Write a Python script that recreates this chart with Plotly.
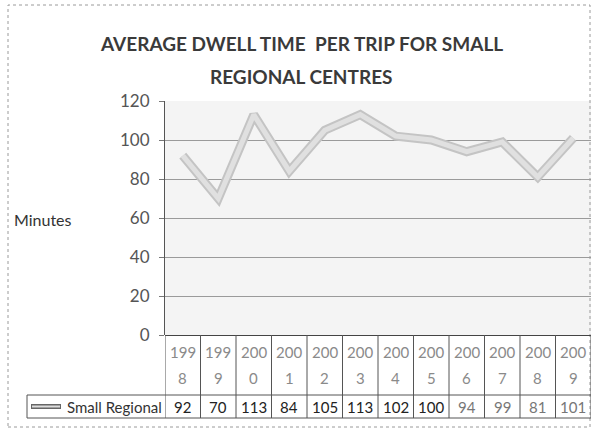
import plotly.graph_objects as go

years = ["1998", "1999", "2000", "2001", "2002", "2003", "2004", "2005", "2006", "2007", "2008", "2009"]
values = [92, 70, 113, 84, 105, 113, 102, 100, 94, 99, 81, 101]
series_name = "Small Regional"
title_lines = ["AVERAGE DWELL TIME  PER TRIP FOR SMALL", "REGIONAL CENTRES"]
y_label = "Minutes"

FONT = "Lato, Open Sans, sans-serif"
W, H = 591, 432
L, R, T, B = 165, 0, 101, 97
ph = H - T - B
pw = W - L - R

def py(Y):
    return (H - B - Y) / ph

def px(X):
    return (X - L) / pw

xs = list(range(len(years)))

fig = go.Figure()
fig.add_trace(go.Scatter(x=xs, y=values, mode="lines",
                         line=dict(color="#c4c4c4", width=9), showlegend=False, hoverinfo="skip"))
fig.add_trace(go.Scatter(x=xs, y=values, mode="lines", name=series_name,
                         line=dict(color="#e0e0e0", width=5), showlegend=False))

shapes = []
annotations = []

shapes.append(dict(type="rect", xref="paper", yref="paper", x0=px(8), x1=px(590), y0=py(427), y1=py(5),
                   line=dict(color="#9a9a9a", width=1, dash="dot"), layer="below"))

row_top = 0
row_mid = py(395)
row_bot = py(418)

for i in range(len(years) + 1):
    shapes.append(dict(type="line", xref="x", yref="paper", x0=i - 0.5, x1=i - 0.5, y0=row_top, y1=row_bot,
                       line=dict(color="#555555", width=1)))
shapes.append(dict(type="line", xref="paper", yref="paper", x0=px(27), x1=1, y0=row_mid, y1=row_mid,
                   line=dict(color="#555555", width=1)))
shapes.append(dict(type="line", xref="paper", yref="paper", x0=px(27), x1=1, y0=row_bot, y1=row_bot,
                   line=dict(color="#555555", width=1)))
shapes.append(dict(type="line", xref="paper", yref="paper", x0=px(27), x1=px(27), y0=row_mid, y1=row_bot,
                   line=dict(color="#555555", width=1)))
shapes.append(dict(type="line", xref="paper", yref="paper", x0=px(31), x1=px(61), y0=py(406.5), y1=py(406.5),
                   line=dict(color="#666666", width=5)))
shapes.append(dict(type="line", xref="paper", yref="paper", x0=px(32), x1=px(60), y0=py(406.5), y1=py(406.5),
                   line=dict(color="#dddddd", width=2)))

for i, (yr, v) in enumerate(zip(years, values)):
    annotations.append(dict(x=i, y=py(352), xref="x", yref="paper", text=yr[:3],
                            showarrow=False, font=dict(family=FONT, size=15, color="#8a8a8a"),
                            xanchor="center", yanchor="middle"))
    annotations.append(dict(x=i, y=py(378), xref="x", yref="paper", text=yr[3:],
                            showarrow=False, font=dict(family=FONT, size=15, color="#8a8a8a"),
                            xanchor="center", yanchor="middle"))
    annotations.append(dict(x=i, y=py(406.5), xref="x", yref="paper", text=str(v),
                            showarrow=False, font=dict(family=FONT, size=15,
                                                       color="#222222" if i < 8 else "#777777"),
                            xanchor="center", yanchor="middle"))

annotations.append(dict(x=px(164), y=py(406.5), xref="paper", yref="paper", text=series_name,
                        showarrow=False, font=dict(family=FONT, size=15, color="#333333"),
                        xanchor="right", yanchor="middle"))
annotations.append(dict(x=px(12), y=py(219), xref="paper", yref="paper", text=y_label,
                        showarrow=False, font=dict(family=FONT, size=16, color="#333333"),
                        xanchor="left", yanchor="middle"))
annotations.append(dict(x=px(301), y=py(44), xref="paper", yref="paper", text="<b>" + title_lines[0] + "</b>",
                        showarrow=False, font=dict(family=FONT, size=19, color="#3a3a3a"),
                        xanchor="center", yanchor="middle"))
annotations.append(dict(x=px(301), y=py(77), xref="paper", yref="paper", text="<b>" + title_lines[1] + "</b>",
                        showarrow=False, font=dict(family=FONT, size=19, color="#3a3a3a"),
                        xanchor="center", yanchor="middle"))

fig.update_layout(
    width=W, height=H,
    margin=dict(l=L, r=R, t=T, b=B),
    paper_bgcolor="white",
    plot_bgcolor="#f4f4f4",
    shapes=shapes,
    annotations=annotations,
    xaxis=dict(range=[-0.5, len(years) - 0.5], showticklabels=False, showgrid=False,
               zeroline=False, showline=False, ticks=""),
    yaxis=dict(range=[0, 120], dtick=20, showgrid=True, gridcolor="#9a9a9a", gridwidth=1,
               zeroline=True, zerolinecolor="#444444", zerolinewidth=1,
               showline=True, linecolor="#555555", linewidth=1,
               ticks="outside", ticklen=5, tickcolor="#777777", ticklabelstandoff=6,
               tickfont=dict(family=FONT, size=17, color="#555555")),
    font=dict(family=FONT),
)

fig.write_html("out.html")
